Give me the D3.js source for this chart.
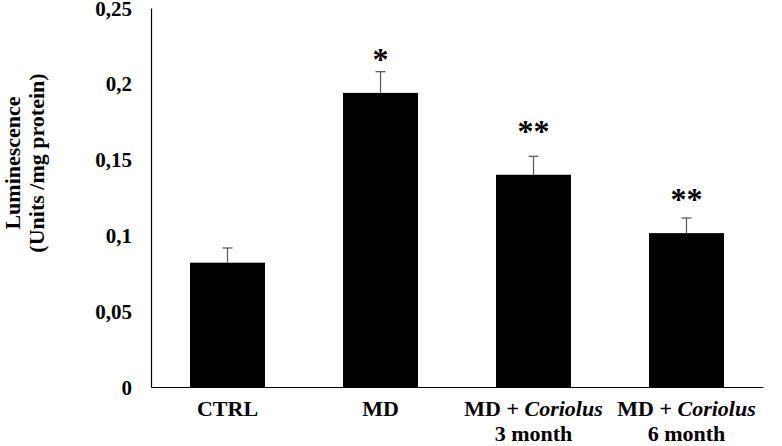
<!DOCTYPE html>
<html><head><meta charset="utf-8">
<script src="https://cdn.jsdelivr.net/npm/d3@7"></script>
<style>body{margin:0;background:#fff}svg{display:block}text{font-family:"Liberation Serif","Times New Roman",Times,serif;font-weight:bold}</style>
</head><body><svg id="c" width="782" height="446"></svg>
<script>
const categories = ["CTRL", "MD", "MD + |Coriolus|\n3 month", "MD + |Coriolus|\n6 month"];
const values = [0.082, 0.194, 0.140, 0.1015];
const errors = [0.0097, 0.014, 0.0122, 0.010];
const marks = ["", "*", "**", "**"];
const markLevels = [0, 0.2197, 0.1724, 0.1276];
const yTicks = [0, 0.05, 0.1, 0.15, 0.2, 0.25];
const yTickLabels = ["0", "0,05", "0,1", "0,15", "0,2", "0,25"];

const svg = d3.select("#c");
const m = {l:151, r:19, t:8, b:59};
const W = 782, H = 446;
const x = d3.scaleBand().domain(categories).range([m.l, W - m.r]).paddingInner(0.51).paddingOuter(0.255);
const y = d3.scaleLinear().domain([0, 0.25]).range([H - m.b, m.t]);

// bars
svg.selectAll("rect.bar").data(values).enter().append("rect")
  .attr("x", (d,i) => x(categories[i])).attr("width", x.bandwidth())
  .attr("y", d => y(d)).attr("height", d => y(0) - y(d)).attr("fill", "#000");

// error bars
const eg = svg.append("g").attr("stroke", "#555").attr("stroke-width", 1.2);
values.forEach((v,i) => {
  const cx = x(categories[i]) + x.bandwidth()/2;
  eg.append("line").attr("x1", cx).attr("x2", cx).attr("y1", y(v)).attr("y2", y(v + errors[i]));
  eg.append("line").attr("x1", cx - 5).attr("x2", cx + 5).attr("y1", y(v + errors[i])).attr("y2", y(v + errors[i]));
});

// significance marks
svg.selectAll("text.sig").data(marks).enter().append("text")
  .attr("x", (d,i) => x(categories[i]) + x.bandwidth()/2)
  .attr("y", (d,i) => y(markLevels[i]) + 16)
  .attr("text-anchor", "middle").attr("font-size", 32).attr("fill", "#000").text(d => d);

// y axis
const ya = svg.append("g").attr("transform", `translate(${m.l},0)`)
  .call(d3.axisLeft(y).tickValues(yTicks).tickFormat((d,i) => yTickLabels[i]).tickSize(0).tickPadding(19));
ya.select(".domain").attr("stroke", "#000").attr("stroke-width", 1.2);
ya.selectAll("text").attr("font-size", 21).attr("font-family", "Liberation Serif, Times New Roman, serif").attr("font-weight", "bold").attr("fill", "#000").attr("dy", "0.34em");

// x axis
const xa = svg.append("g").attr("transform", `translate(0,${y(0)})`)
  .call(d3.axisBottom(x).tickSize(0).tickFormat(""));
xa.select(".domain").attr("stroke", "#000").attr("stroke-width", 1.2);
categories.forEach(c => {
  const cx = x(c) + x.bandwidth()/2;
  const lines = c.split("\n");
  lines.forEach((ln, li) => {
    const t = svg.append("text").attr("x", cx).attr("y", y(0) + 29 + li * 25)
      .attr("text-anchor", "middle").attr("font-size", 22).attr("fill", "#000");
    ln.split("|").forEach((part, pi) => {
      if (part.length) t.append("tspan").attr("font-style", pi % 2 ? "italic" : "normal").text(part);
    });
  });
});

// y title
const yt = svg.append("text").attr("transform", "translate(20,163) rotate(-90)")
  .attr("text-anchor", "middle").attr("font-size", 22).attr("fill", "#000");
yt.append("tspan").attr("x", 0).attr("y", 0).text("Luminescence");
yt.append("tspan").attr("x", 0).attr("y", 0).attr("dy", 24).text("(Units /mg protein)");
</script></body></html>
